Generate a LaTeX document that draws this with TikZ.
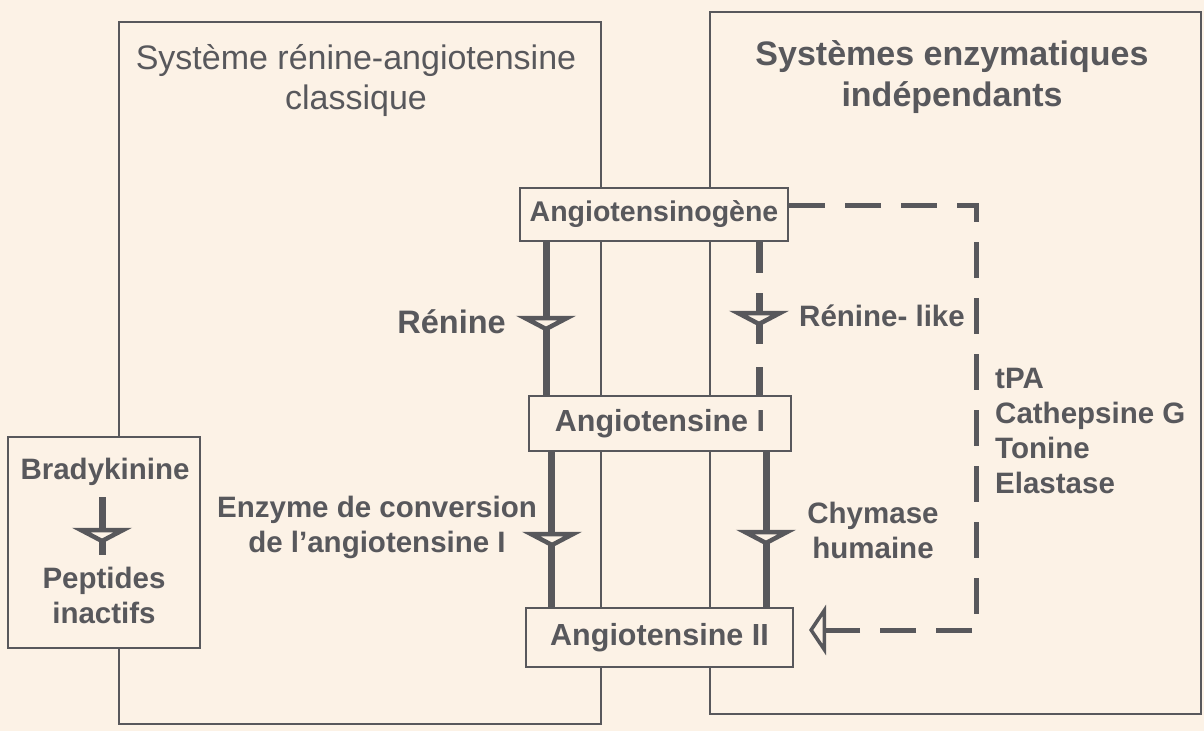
\documentclass[tikz,border=0pt]{standalone}
\usepackage{fontspec}
\setmainfont{Liberation Sans}
\usetikzlibrary{arrows.meta}
\definecolor{bg}{HTML}{FCF2E6}
\definecolor{ink}{HTML}{58585C}
\begin{document}
\begin{tikzpicture}[x=1pt,y=-1pt,
  every node/.style={text=ink},
  lbl/.style={align=center, inner sep=0pt, font=\bfseries\fontsize{29.5}{35}\selectfont},
  ttl/.style={align=center, inner sep=0pt, font=\fontsize{34}{40}\selectfont},
  ttlb/.style={align=center, inner sep=0pt, font=\bfseries\fontsize{34}{41}\selectfont},
  frame/.style={draw=ink, line width=2pt},
  box/.style={draw=ink, line width=2pt, fill=bg, inner sep=0pt, font=\bfseries\fontsize{28.5}{34}\selectfont},
  bigtxt/.style={font=\bfseries\fontsize{30.5}{36}\selectfont},
  enzline/.style={draw=ink, line width=7pt},
  tri/.style={draw=ink, fill=bg, line width=4.5pt, line join=miter},
  dashline/.style={draw=ink, line width=5pt, dash pattern=on 36pt off 20pt},
  enz/.pic={\draw[tri] (-21,0) -- (21,0) -- (0,11) -- cycle;}
]
\fill[bg] (0,0) rectangle (1204,731);
\useasboundingbox (0,0) rectangle (1204,731);

% system frames
\draw[frame] (119,22) rectangle (601,724);
\draw[frame] (710,12) rectangle (1201,714);

% titles
\node[ttl] (tl) at (356,81) {Système rénine-angiotensine\\classique};
\node[ttlb] (tr) at (952,77) {Systèmes enzymatiques\\indépendants};

% main boxes
\node[box, minimum width=268pt, minimum height=53pt] (ag) at (654,214.5) {Angiotensinogène};
\node[box, bigtxt, minimum width=262pt, minimum height=55pt] (a1) at (660,423.5) {Angiotensine I};
\node[box, bigtxt, minimum width=267pt, minimum height=59pt] (a2) at (659.5,637.5) {Angiotensine II};
\node[box, minimum width=192pt, minimum height=211pt] (bk) at (104,542.5) {};

% enzyme lines
\coordinate (xa) at (546,0);
\coordinate (xb) at (759,0);
\coordinate (xc) at (551,0);
\coordinate (xd) at (766,0);
\draw[enzline] (ag.south -| xa) -- (a1.north -| xa);
\draw[enzline, dash pattern=on 31pt off 20pt on 51pt off 23pt on 40pt] (ag.south -| xb) -- (a1.north -| xb);
\draw[enzline] (a1.south -| xc) -- (a2.north -| xc);
\draw[enzline] (a1.south -| xd) -- (a2.north -| xd);
\pic at (546,318) {enz};
\pic at (759,313) {enz};
\pic at (552,534) {enz};
\pic at (766,532) {enz};

% bradykinine
\node[lbl] (bt) at (105,472) {Bradykinine};
\node[lbl] (pt) at (104,595) {Peptides\\inactifs};
\coordinate (bs1) at (102,497);
\coordinate (bs2) at (102,555);
\draw[enzline] (bs1) -- (bs2);
\pic at (102,530) {enz};

% labels
\node[lbl, font=\bfseries\fontsize{32.5}{38}\selectfont, anchor=east] (lr) at (506,322) {Rénine};
\node[lbl, anchor=west] (lrl) at (799,316) {Rénine- like};
\node[lbl] (leca) at (377,527) {Enzyme de conversion\\de l’angiotensine I};
\node[lbl] (lch) at (873,530) {Chymase\\humaine};
\node[lbl, align=left, anchor=west] (lalt) at (995,431) {tPA\\Cathepsine G\\Tonine\\Elastase};

% independent pathway
\coordinate (c1) at (976,205);
\coordinate (c2) at (976,630);
\draw[dashline, -{Triangle[open, length=17pt, width=50pt, line width=3.5pt]}, shorten >=15pt]
  (ag.east |- c1) -- (c1) -- (c2) -- (a2.east |- c2);
\end{tikzpicture}
\end{document}
